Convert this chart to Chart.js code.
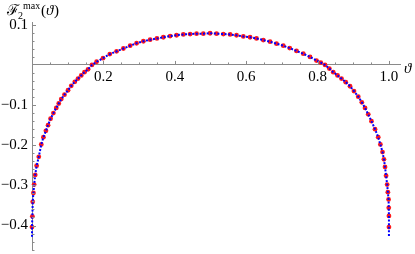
<!DOCTYPE html>
<html>
<head>
<meta charset="utf-8">
<script src="https://cdn.jsdelivr.net/npm/chart.js@4"></script>
<style>
  html, body { margin: 0; padding: 0; background: #fff; }
  #wrap { width: 415px; height: 254px; }
</style>
</head>
<body>
<div id="wrap"><canvas id="plot" width="415" height="254"></canvas></div>
<script>
// theta and F2max(theta) for the red dots
const redTheta = [0.000, 0.001, 0.002, 0.004, 0.006, 0.009, 0.013, 0.019, 0.026, 0.032,
  0.039, 0.045, 0.052, 0.060, 0.068, 0.075, 0.082, 0.091, 0.101, 0.110,
  0.120, 0.129, 0.138, 0.147, 0.157, 0.168, 0.181, 0.199, 0.218, 0.237,
  0.256, 0.275, 0.293, 0.312, 0.331, 0.350, 0.368, 0.387, 0.405, 0.424,
  0.443, 0.461, 0.480, 0.499, 0.517, 0.536, 0.555, 0.573, 0.592, 0.611,
  0.629, 0.648, 0.667, 0.685, 0.704, 0.722, 0.741, 0.760, 0.779, 0.797,
  0.809, 0.821, 0.833, 0.844, 0.856, 0.867, 0.879, 0.891, 0.902, 0.914,
  0.924, 0.933, 0.942, 0.951, 0.961, 0.970, 0.976, 0.982, 0.986, 0.989,
  0.992, 0.995, 0.997, 0.999, 0.9995, 1.000, 1.000];
const redF = [-0.404, -0.377, -0.341, -0.319, -0.298, -0.274, -0.251, -0.229, -0.198, -0.180,
  -0.164, -0.150, -0.134, -0.120, -0.107, -0.096, -0.085, -0.074, -0.063, -0.052,
  -0.042, -0.034, -0.026, -0.018, -0.011, 0.000, 0.008, 0.017, 0.027, 0.034,
  0.041, 0.048, 0.054, 0.059, 0.063, 0.066, 0.069, 0.072, 0.074, 0.076,
  0.077, 0.078, 0.078, 0.079, 0.078, 0.077, 0.076, 0.074, 0.071, 0.069,
  0.066, 0.062, 0.058, 0.053, 0.048, 0.042, 0.035, 0.028, 0.020, 0.011,
  0.006, 0.000, -0.009, -0.018, -0.026, -0.034, -0.043, -0.053, -0.065, -0.079,
  -0.093, -0.107, -0.123, -0.140, -0.160, -0.180, -0.198, -0.217, -0.235, -0.254,
  -0.276, -0.298, -0.317, -0.335, -0.356, -0.376, -0.404];

// blue dotted curve runs a bit further down at both ends
const blueStart = { theta: 0.000, f: -0.428 };
const blueEnd = { theta: 1.000, f: -0.428 };

const xTickValues = [0.2, 0.4, 0.6, 0.8, 1.0];
const yTickValues = [-0.4, -0.3, -0.2, -0.1, 0.1];

const axisGray = '#8a8a8a';
const serif = "'Liberation Serif', 'DejaVu Serif', serif";

const redPoints = redTheta.map((t, i) => ({ x: t, y: redF[i] }));
const bluePoints = [{ x: blueStart.theta, y: blueStart.f }]
  .concat(redPoints)
  .concat([{ x: blueEnd.theta, y: blueEnd.f }]);

function fmt(v) {
  return v < 0 ? '\u2212' + (-v).toFixed(1) : v.toFixed(1);
}

// Mathematica-style inward ticks and axis captions
const axisDecor = {
  id: 'axisDecor',
  afterDraw(chart) {
    const ctx = chart.ctx;
    const xs = chart.scales.x, ys = chart.scales.y;
    const y0 = ys.getPixelForValue(0);
    const x0 = xs.getPixelForValue(0);
    ctx.save();
    ctx.strokeStyle = axisGray;
    ctx.lineWidth = 1;
    ctx.beginPath();
    for (let k = 1; k <= 20; k++) {
      const px = Math.round(xs.getPixelForValue(k * 0.05)) + 0.5;
      const len = k % 4 === 0 ? 4 : 2.5;
      ctx.moveTo(px, y0);
      ctx.lineTo(px, y0 - len);
    }
    for (let k = -23; k <= 5; k++) {
      if (k === 0) continue;
      const py = Math.round(ys.getPixelForValue(k * 0.02)) + 0.5;
      const len = k % 5 === 0 ? 4 : 2.5;
      ctx.moveTo(x0, py);
      ctx.lineTo(x0 + len, py);
    }
    ctx.stroke();

    ctx.fillStyle = '#000';
    ctx.textBaseline = 'alphabetic';
    ctx.font = 'italic 15px ' + serif;
    ctx.fillText('\u03d1', 404, 73);

    ctx.font = '15px ' + serif;
    ctx.fillText('\u2131', 7, 15);
    ctx.font = '10px ' + serif;
    ctx.fillText('2', 18, 19);
    ctx.fillText('max', 23, 9);
    ctx.font = '15px ' + serif;
    ctx.fillText('(', 41, 15);
    ctx.font = 'italic 15px ' + serif;
    ctx.fillText('\u03d1', 46, 15);
    ctx.font = '15px ' + serif;
    ctx.fillText(')', 54, 15);
    ctx.restore();
  }
};

new Chart(document.getElementById('plot'), {
  type: 'scatter',
  data: {
    datasets: [
      {
        label: 'blue',
        data: bluePoints,
        showLine: true,
        borderColor: '#0000ff',
        borderWidth: 2,
        borderDash: [2, 1.6],
        pointRadius: 0,
        tension: 0,
        clip: false,
        order: 0
      },
      {
        label: 'red',
        data: redPoints,
        showLine: false,
        pointRadius: 2.4,
        pointBackgroundColor: '#ff1a1a',
        pointBorderWidth: 0,
        clip: false,
        order: 1
      }
    ]
  },
  options: {
    responsive: false,
    animation: false,
    events: [],
    layout: { padding: { top: 22, right: 15, bottom: 0, left: 0 } },
    plugins: { legend: { display: false }, tooltip: { enabled: false } },
    scales: {
      x: {
        type: 'linear',
        position: { y: 0 },
        min: 0,
        max: 1.031,
        afterBuildTicks: s => { s.ticks = xTickValues.map(v => ({ value: v })); },
        afterFit: s => { s.paddingLeft = 0; s.paddingRight = 0; },
        grid: { display: false, drawTicks: false },
        border: { color: axisGray, width: 1 },
        ticks: {
          autoSkip: false,
          maxRotation: 0,
          padding: 3,
          color: '#000',
          font: { family: serif, size: 15 },
          callback: v => fmt(v)
        }
      },
      y: {
        type: 'linear',
        position: 'left',
        min: -0.461,
        max: 0.107,
        afterBuildTicks: s => { s.ticks = yTickValues.map(v => ({ value: v })); },
        afterFit: s => { s.width = 32; s.paddingTop = 0; s.paddingBottom = 0; },
        grid: { display: false, drawTicks: false },
        border: { color: axisGray, width: 1 },
        ticks: {
          autoSkip: false,
          padding: 4,
          color: '#000',
          font: { family: serif, size: 15 },
          callback: v => fmt(v)
        }
      }
    }
  },
  plugins: [axisDecor]
});
</script>
</body>
</html>
